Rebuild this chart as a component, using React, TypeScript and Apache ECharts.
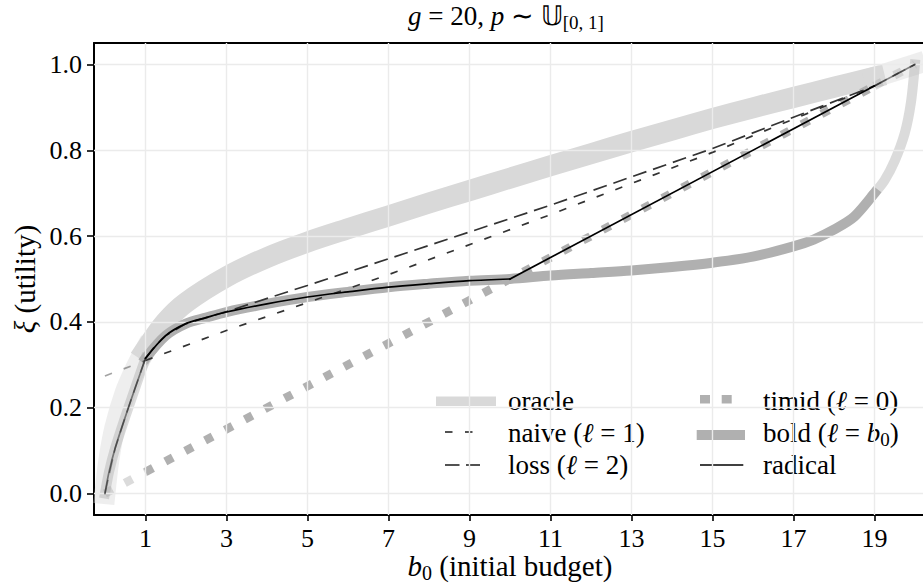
import React, { useEffect, useRef } from "react";
import * as echarts from "echarts";

// Utility ξ of each betting strategy as a function of the initial budget b0 (goal g = 20)
const oracleBudget = [0, 0.1, 0.25, 0.5, 0.75, 1, 1.5, 2, 3, 4, 5, 6, 7, 8, 9, 10, 11, 12, 13, 14, 15, 16, 17, 18, 19, 20];
const oracleUtility = [0, 0.08, 0.155, 0.235, 0.29, 0.335, 0.4, 0.445, 0.505, 0.55, 0.586, 0.617, 0.647, 0.677, 0.706, 0.735, 0.764, 0.792, 0.82, 0.847, 0.874, 0.899, 0.923, 0.947, 0.97, 1.0];

const boldBudget = [0, 0.1, 0.25, 0.5, 0.75, 1, 1.5, 2, 2.5, 3, 4, 5, 6, 7, 8, 9, 10, 11, 12, 13, 14, 15, 16, 17, 17.5, 18, 18.5, 19, 19.25, 19.5, 19.75, 19.9, 20];
const boldUtility = [0, 0.05, 0.105, 0.178, 0.247, 0.315, 0.368, 0.396, 0.41, 0.423, 0.442, 0.458, 0.47, 0.481, 0.489, 0.496, 0.5, 0.508, 0.514, 0.52, 0.528, 0.538, 0.552, 0.576, 0.592, 0.615, 0.645, 0.7, 0.73, 0.775, 0.84, 0.91, 1.0];

const timidBudget = [0, 1, 19, 20];
const timidUtility = [0, 0.05, 0.95, 1.0];

const naiveBudget = [0, 1, 3, 7, 11, 15, 19, 20];
const naiveUtility = [0.274, 0.31, 0.38, 0.51, 0.65, 0.795, 0.95, 1.0];

const lossBudget = [0, 0.25, 0.5, 0.75, 1, 1.25, 1.5, 2, 2.5, 3, 5, 7, 11, 15, 19, 20];
const lossUtility = [0, 0.105, 0.178, 0.247, 0.315, 0.345, 0.368, 0.396, 0.41, 0.424, 0.485, 0.547, 0.672, 0.804, 0.95, 1.0];

const radicalCurveBudget = [0, 0.1, 0.25, 0.5, 0.75, 1, 1.5, 2, 2.5, 3, 4, 5, 6, 7, 8, 9, 10];
const radicalCurveUtility = [0, 0.05, 0.105, 0.178, 0.247, 0.315, 0.368, 0.396, 0.41, 0.423, 0.442, 0.458, 0.47, 0.481, 0.489, 0.496, 0.5];
const radicalLineBudget = [10, 19, 20];
const radicalLineUtility = [0.5, 0.95, 1.0];

const xTicks = [1, 3, 5, 7, 9, 11, 13, 15, 17, 19];
const yTicks = [0, 0.2, 0.4, 0.6, 0.8, 1.0];

const SERIF = "Liberation Serif";
const INK = "#000";
const TICK_FS = 26;
const LEGEND_FS = 27;
const LABEL_FS = 29;

type Piece = { data: number[][]; light: boolean };

// cut a curve at b0 = 1 and b0 = 19; the outer parts are drawn faded
function pieces(xs: number[], ys: number[]): Piece[] {
  const left: number[][] = [];
  const mid: number[][] = [];
  const right: number[][] = [];
  xs.forEach((x, i) => {
    const p = [x, ys[i]];
    if (x <= 1) left.push(p);
    if (x >= 1 && x <= 19) mid.push(p);
    if (x >= 19) right.push(p);
  });
  const out: Piece[] = [];
  if (left.length > 1) out.push({ data: left, light: true });
  if (mid.length > 1) out.push({ data: mid, light: false });
  if (right.length > 1) out.push({ data: right, light: true });
  return out;
}

function lineSeries(name: string, xs: number[], ys: number[], style: any, z: number, smooth: number | false) {
  return pieces(xs, ys).map((pc) => ({
    type: "line",
    name,
    data: pc.data,
    z,
    symbol: "none",
    smooth,
    silent: true,
    clip: false,
    lineStyle: { ...style, opacity: pc.light ? 0.45 : 1 },
    emphasis: { disabled: true },
  }));
}

const oracleStyle = { color: "#d9d9d9", width: 21, cap: "square", join: "round" };
const boldStyle = { color: "#b0b0b0", width: 10, cap: "square", join: "round" };
const timidStyle = { color: "#b0b0b0", width: 8.5, type: [8.5, 14], cap: "butt" };
const naiveStyle = { color: "#333", width: 1.7, type: [7.5, 12.5], cap: "butt" };
const lossStyle = { color: "#333", width: 1.7, type: [14, 7], cap: "butt" };
const radicalStyle = { color: "#000", width: 1.7, cap: "square", join: "round" };

function richStyles(fs: number) {
  const sub = Math.round(fs * 0.7);
  return {
    n: { fontSize: fs, fontFamily: SERIF, fill: INK },
    i: { fontSize: fs, fontFamily: SERIF, fontStyle: "italic", fill: INK },
    s: { fontSize: sub, fontFamily: SERIF, fill: INK, padding: [Math.round(fs * 0.46), 0, 0, 0] },
  };
}

function textEl(x: number, y: number, text: string, align: string, fs: number, rotation = 0) {
  return {
    type: "text",
    x,
    y,
    rotation,
    silent: true,
    style: {
      text,
      fill: INK,
      fontSize: fs,
      fontFamily: SERIF,
      align,
      verticalAlign: "middle",
      rich: richStyles(fs),
    },
  };
}

function buildOption() {
  const gridSeries = {
    type: "line",
    name: "grid",
    data: [],
    z: 1,
    silent: true,
    markLine: {
      silent: true,
      symbol: ["none", "none"],
      label: { show: false },
      animation: false,
      lineStyle: { color: "#ebebeb", width: 1.4, type: "solid" },
      emphasis: { disabled: true },
      data: [...xTicks.map((v) => ({ xAxis: v })), ...yTicks.map((v) => ({ yAxis: v }))],
    },
  };

  const series: any[] = [
    gridSeries,
    ...lineSeries("oracle", oracleBudget, oracleUtility, oracleStyle, 2, 0.3),
    ...lineSeries("bold", boldBudget, boldUtility, boldStyle, 3, 0.3),
    ...lineSeries("timid", timidBudget, timidUtility, timidStyle, 4, false),
    ...lineSeries("naive", naiveBudget, naiveUtility, naiveStyle, 5, false),
    ...lineSeries("loss", lossBudget, lossUtility, lossStyle, 6, false),
    ...lineSeries("radical", radicalCurveBudget, radicalCurveUtility, radicalStyle, 7, 0.3),
    ...lineSeries("radical", radicalLineBudget, radicalLineUtility, radicalStyle, 7, false),
  ];

  const seg = (x1: number, x2: number, y: number, stroke: string, w: number) => ({
    type: "line",
    silent: true,
    shape: { x1, y1: y, x2, y2: y },
    style: { stroke, lineWidth: w },
  });

  const graphic: any[] = [
    textEl(506, 16, "{i|g}{n| = 20, }{i|p}{n| \u223c }{n|\u{1D54C}}{s|[0, 1]}", "center", 27),
    textEl(510, 566, "{i|b}{s|0}{n| (initial budget)}", "center", LABEL_FS),
    textEl(25, 279, "{i|\u03be}{n| (utility)}", "center", LABEL_FS, Math.PI / 2),
    // legend handles
    { type: "rect", silent: true, shape: { x: 436, y: 396.5, width: 60, height: 9.5 }, style: { fill: "#d9d9d9" } },
    seg(445, 452.5, 432, "#333", 1.7),
    seg(465, 472.5, 432, "#333", 1.7),
    seg(445, 459.5, 465, "#333", 1.7),
    seg(466, 480, 465, "#333", 1.7),
    { type: "rect", silent: true, shape: { x: 700, y: 395, width: 10, height: 8.5 }, style: { fill: "#b0b0b0" } },
    { type: "rect", silent: true, shape: { x: 721.7, y: 395, width: 10, height: 8.5 }, style: { fill: "#b0b0b0" } },
    { type: "rect", silent: true, shape: { x: 696.7, y: 430, width: 48.3, height: 10 }, style: { fill: "#b0b0b0" } },
    seg(700, 743.3, 465, "#000", 1.7),
    // legend labels
    textEl(508, 401, "{n|oracle}", "left", LEGEND_FS),
    textEl(508, 433, "{n|naive (}{i|\u2113}{n| = 1)}", "left", LEGEND_FS),
    textEl(508, 465, "{n|loss (}{i|\u2113}{n| = 2)}", "left", LEGEND_FS),
    textEl(763, 401, "{n|timid (}{i|\u2113}{n| = 0)}", "left", LEGEND_FS),
    textEl(763, 433, "{n|bold (}{i|\u2113}{n| = }{i|b}{s|0}{n|)}", "left", LEGEND_FS),
    textEl(763, 465, "{n|radical}", "left", LEGEND_FS),
  ];

  return {
    animation: false,
    backgroundColor: "#fff",
    textStyle: { fontFamily: SERIF },
    grid: { left: 94, top: 43, right: 0, bottom: 70, containLabel: false },
    xAxis: [
      {
        type: "value",
        min: -0.27,
        max: 20.2,
        position: "bottom",
        axisLine: { show: true, onZero: false, lineStyle: { color: INK, width: 2 } },
        axisTick: { show: true, customValues: xTicks, length: 6, lineStyle: { color: INK, width: 1.6 } },
        axisLabel: {
          show: true,
          customValues: xTicks,
          margin: 10,
          color: INK,
          fontSize: TICK_FS,
          fontFamily: SERIF,
          formatter: (v: number) => String(v),
        },
        splitLine: { show: false },
      },
      {
        type: "value",
        min: -0.27,
        max: 20.2,
        position: "top",
        axisLine: { show: true, onZero: false, lineStyle: { color: INK, width: 2 } },
        axisTick: { show: false },
        axisLabel: { show: false },
        splitLine: { show: false },
      },
    ],
    yAxis: [
      {
        type: "value",
        min: -0.05,
        max: 1.05,
        position: "left",
        axisLine: { show: true, onZero: false, lineStyle: { color: INK, width: 2 } },
        axisTick: { show: true, customValues: yTicks, length: 7, lineStyle: { color: INK, width: 1.6 } },
        axisLabel: {
          show: true,
          customValues: yTicks,
          margin: 12,
          color: INK,
          fontSize: TICK_FS,
          fontFamily: SERIF,
          formatter: (v: number) => v.toFixed(1),
        },
        splitLine: { show: false },
      },
    ],
    series,
    graphic,
  };
}

export default function App() {
  const ref = useRef<HTMLDivElement>(null);
  useEffect(() => {
    if (!ref.current) return;
    const chart = echarts.init(ref.current, null, { renderer: "svg" });
    chart.setOption(buildOption() as any);
    return () => chart.dispose();
  }, []);
  return (
    <div
      ref={ref}
      style={{ position: "absolute", left: 0, top: 0, width: 923, height: 585, background: "#fff" }}
    />
  );
}
